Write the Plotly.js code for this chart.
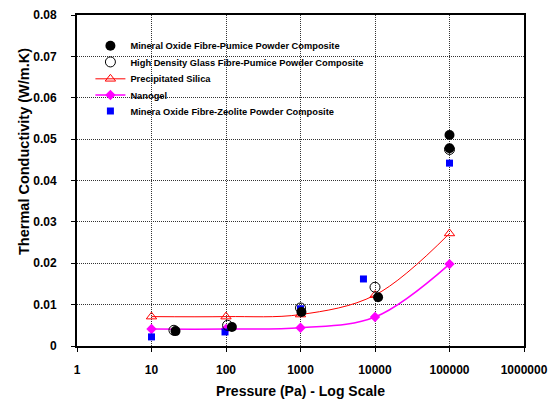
<!DOCTYPE html>
<html>
<head>
<meta charset="utf-8">
<script src="https://cdn.plot.ly/plotly-3.0.1.min.js"></script>
<style>html,body{margin:0;padding:0;background:#fff;}#chart{width:557px;height:399px;}</style>
</head>
<body>
<div id="chart"></div>
<script>
// Data
var mineralPumiceX = [21, 120, 1030, 11000, 100000, 100000];
var mineralPumiceY = [0.0036, 0.0046, 0.0082, 0.0118, 0.0510, 0.0478];
var glassPumiceX = [20, 105, 1000, 10000, 100000];
var glassPumiceY = [0.0038, 0.0050, 0.0092, 0.0142, 0.0475];
var silicaX = [10, 100, 1000, 10000, 100000];
var silicaY = [0.0071, 0.0071, 0.0076, 0.0123, 0.0272];
var nanogelX = [10, 100, 1000, 10000, 100000];
var nanogelY = [0.0041, 0.0041, 0.0044, 0.0070, 0.0198];
var zeoliteX = [10, 97, 1000, 7000, 100000];
var zeoliteY = [0.0022, 0.0034, 0.0090, 0.0162, 0.0442];
var xTickVals = [1, 10, 100, 1000, 10000, 100000, 1000000];
var xTickLabels = ['1', '10', '100', '1000', '10000', '100000', '1000000'];
var names = ['Mineral Oxide Fibre-Pumice Powder Composite',
             'High Density Glass Fibre-Pumice Powder Composite',
             'Precipitated Silica',
             'Nanogel',
             'Minera Oxide Fibre-Zeolite Powder Composite'];
var xTitle = 'Pressure (Pa) - Log Scale';
var yTitle = 'Thermal Conductivity (W/m.K)';

var FONT = 'Liberation Sans, Arial, Helvetica, sans-serif';

var traces = [
  {x: silicaX, y: silicaY, name: names[2], legend: 'legend3', mode: 'lines+markers', type: 'scatter',
   line: {color: '#FF0000', width: 1, shape: 'spline'},
   marker: {symbol: 'triangle-up-open', size: 9, color: '#FF0000', line: {width: 1}}},
  {x: nanogelX, y: nanogelY, name: names[3], legend: 'legend4', mode: 'lines+markers', type: 'scatter',
   line: {color: '#FF00FF', width: 1.5, shape: 'spline'},
   marker: {symbol: 'diamond', size: 8, color: '#FF00FF'}},
  {x: zeoliteX, y: zeoliteY, name: names[4], legend: 'legend5', mode: 'markers', type: 'scatter',
   marker: {symbol: 'square', size: 7, color: '#0000FF'}},
  {x: glassPumiceX, y: glassPumiceY, name: names[1], legend: 'legend2', mode: 'markers', type: 'scatter',
   marker: {symbol: 'circle-open', size: 10, color: '#000000', line: {width: 1}}},
  {x: mineralPumiceX, y: mineralPumiceY, name: names[0], legend: 'legend', mode: 'markers', type: 'scatter',
   marker: {symbol: 'circle', size: 10, color: '#000000'}}
];

function leg(y) {
  return {x: 0.03, y: y, xanchor: 'left', yanchor: 'top', bgcolor: 'rgba(0,0,0,0)',
          font: {family: FONT, size: 9.3, weight: 'bold', color: '#000'}, itemwidth: 30};
}

var layout = {
  width: 557, height: 399,
  margin: {l: 77, r: 33, t: 15, b: 53},
  paper_bgcolor: '#fff', plot_bgcolor: '#fff',
  font: {family: FONT, color: '#000'},
  showlegend: true,
  legend: leg(0.951), legend2: leg(0.902), legend3: leg(0.851), legend4: leg(0.802), legend5: leg(0.754),
  xaxis: {
    type: 'log', range: [0, 6], tickvals: xTickVals, ticktext: xTickLabels,
    showline: true, linecolor: '#000', linewidth: 2, mirror: true,
    ticks: 'outside', ticklen: 4, tickcolor: '#000', ticklabelstandoff: 8,
    showgrid: true, gridcolor: '#333', griddash: '1px,1px', gridwidth: 1,
    zeroline: false,
    tickfont: {family: FONT, size: 12, weight: 'bold'},
    title: {text: xTitle, font: {family: FONT, size: 14, weight: 'bold'}, standoff: 12}
  },
  yaxis: {
    range: [0, 0.08], dtick: 0.01,
    showline: true, linecolor: '#000', linewidth: 2, mirror: true,
    ticks: 'outside', ticklen: 4, tickcolor: '#000', ticklabelstandoff: 12,
    showgrid: true, gridcolor: '#333', griddash: '1px,1px', gridwidth: 1,
    zeroline: false,
    tickfont: {family: FONT, size: 12, weight: 'bold'}
  },
  annotations: [{
    text: yTitle, textangle: -90, xref: 'paper', yref: 'paper',
    x: (24 - 77) / 447, y: (346 - 152) / 331, xanchor: 'center', yanchor: 'middle',
    showarrow: false, font: {family: FONT, size: 14.5, weight: 'bold', color: '#000'}
  }]
};

Plotly.newPlot('chart', traces, layout, {displayModeBar: false, staticPlot: true});
</script>
</body>
</html>
